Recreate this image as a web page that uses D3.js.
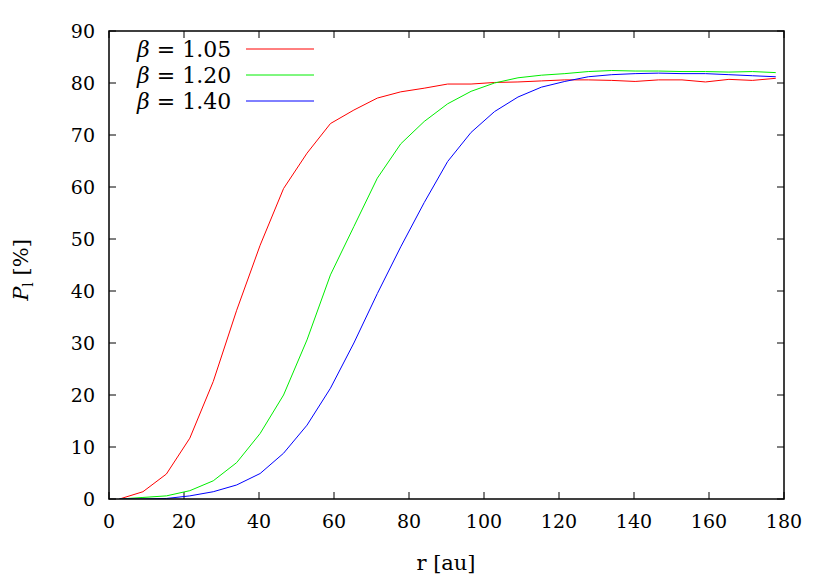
<!DOCTYPE html><html><head><meta charset="utf-8">
<script src="https://d3js.org/d3.v7.min.js"></script>
<style>body{margin:0;background:#fff}text{font-family:"DejaVu Serif",serif;}</style></head><body>
<svg id="c" width="830" height="581"></svg>
<script>
const rValues = d3.range(29).map(i => 2.8 + 6.25 * i);
const seriesNames = ["1.05", "1.20", "1.40"];
const seriesColors = ["#ff0000", "#00ee00", "#0000ff"];
const beta105 = [0,1.4,4.8,11.7,22.6,36.3,48.8,59.7,66.5,72.2,74.8,77.1,78.3,79.0,79.8,79.8,80.1,80.2,80.4,80.6,80.6,80.5,80.3,80.6,80.6,80.2,80.7,80.5,80.9];
const beta120 = [0,0.3,0.6,1.6,3.5,7.0,12.6,20.0,30.6,43.1,52.4,61.7,68.3,72.6,76.0,78.4,80.0,81.0,81.5,81.8,82.2,82.4,82.3,82.3,82.2,82.2,82.1,82.2,82.0];
const beta140 = [0,0,0.1,0.6,1.4,2.7,4.9,8.8,14.2,21.3,30.0,39.5,48.5,57.0,64.9,70.5,74.5,77.3,79.2,80.3,81.2,81.6,81.8,81.9,81.8,81.8,81.6,81.4,81.2];
const xTicks = d3.range(0, 181, 20);
const yTicks = d3.range(0, 91, 10);
const series = [beta105, beta120, beta140];

const svg = d3.select("#c");
const L=109, R=784, T=31, B=499;
const x = d3.scaleLinear().domain([0,180]).range([L,R]);
const y = d3.scaleLinear().domain([0,90]).range([B,T]);
const g = svg.append("g");
xTicks.forEach(t=>{
  g.append("line").attr("x1",x(t)).attr("x2",x(t)).attr("y1",B).attr("y2",B-7).attr("stroke","#000");
  g.append("line").attr("x1",x(t)).attr("x2",x(t)).attr("y1",T).attr("y2",T+7).attr("stroke","#000");
  g.append("text").attr("x",x(t)).attr("y",B+29).attr("text-anchor","middle").attr("font-size",19).text(t);
});
yTicks.forEach(t=>{
  g.append("line").attr("x1",L).attr("x2",L+7).attr("y1",y(t)).attr("y2",y(t)).attr("stroke","#000");
  g.append("line").attr("x1",R).attr("x2",R-7).attr("y1",y(t)).attr("y2",y(t)).attr("stroke","#000");
  g.append("text").attr("x",L-14).attr("y",y(t)+7).attr("text-anchor","end").attr("font-size",19).text(t);
});
const line = d3.line().x((d,i)=>x(rValues[i])).y(d=>y(d));
svg.append("defs").append("clipPath").attr("id","cp").append("rect").attr("x",L).attr("y",T).attr("width",R-L).attr("height",B-T);
series.forEach((s,k)=>{
  svg.append("path").attr("d",line(s)).attr("fill","none").attr("stroke",seriesColors[k]).attr("stroke-width",1).attr("clip-path","url(#cp)");
});
svg.append("rect").attr("x",L).attr("y",T).attr("width",R-L).attr("height",B-T).attr("fill","none").attr("stroke","#000").attr("stroke-width",1.5);
seriesNames.forEach((n,k)=>{
  const ly = 49 + k*26;
  const t = svg.append("text").attr("x",137).attr("y",ly+8).attr("font-size",22);
  t.append("tspan").attr("font-style","italic").text("β");
  t.append("tspan").text(" = " + n);
  svg.append("line").attr("x1",246).attr("x2",314).attr("y1",ly).attr("y2",ly).attr("stroke",seriesColors[k]);
});
svg.append("text").attr("x",446).attr("y",570).attr("text-anchor","middle").attr("font-size",21).text("r [au]");
const yl = svg.append("text").attr("transform","translate(28,270) rotate(-90)").attr("text-anchor","middle").attr("font-size",21);
yl.append("tspan").attr("font-style","italic").text("P");
yl.append("tspan").attr("font-size",14).attr("dy",5).text("l");
yl.append("tspan").attr("dy",-5).text(" [%]");
</script></body></html>
